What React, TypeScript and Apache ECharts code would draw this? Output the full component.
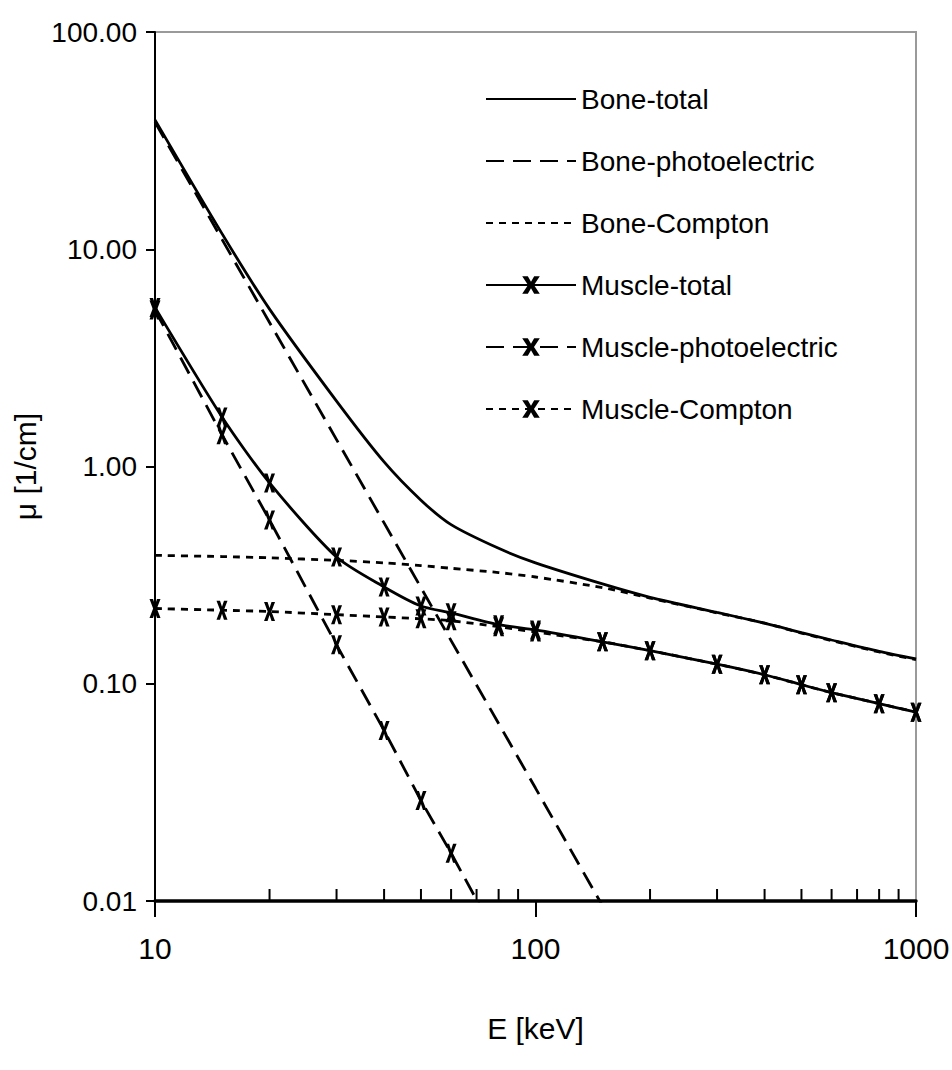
import React, { useEffect, useRef } from "react";
import * as echarts from "echarts";

// Photon energy (keV) sample points
const energies = [10, 15, 20, 30, 40, 50, 60, 80, 100, 150, 200, 300, 400, 500, 600, 800, 1000];

// Linear attenuation coefficient mu [1/cm]
const boneTotal = [39.4, 11.8, 5.3, 2.0, 1.05, 0.7, 0.54, 0.42, 0.36, 0.288, 0.25, 0.213, 0.19, 0.172, 0.159, 0.141, 0.13];
const boneCompton = [0.39, 0.385, 0.38, 0.37, 0.36, 0.35, 0.34, 0.325, 0.31, 0.277, 0.248, 0.212, 0.19, 0.171, 0.158, 0.14, 0.129];
const bonePhotoEnergies = [10, 15, 20, 30, 40, 50, 60, 80, 100, 150];
const bonePhoto = [38.5, 11.1, 4.6, 1.33, 0.55, 0.277, 0.158, 0.0656, 0.0331, 0.0095];

const muscleTotal = [5.4, 1.69, 0.84, 0.383, 0.279, 0.228, 0.212, 0.187, 0.177, 0.156, 0.142, 0.123, 0.11, 0.099, 0.091, 0.081, 0.074];
const muscleCompton = [0.222, 0.218, 0.215, 0.208, 0.203, 0.199, 0.195, 0.183, 0.173, 0.156, 0.142, 0.123, 0.11, 0.099, 0.091, 0.081, 0.074];
const musclePhotoEnergies = [10, 15, 20, 30, 40, 50, 60, 80];
const musclePhoto = [5.25, 1.4, 0.567, 0.151, 0.061, 0.029, 0.0166, 0.0066];

// Minor ticks on the energy axis
const minorTicks = [20, 30, 40, 50, 60, 70, 80, 90, 200, 300, 400, 500, 600, 700, 800, 900];

const seriesNames = [
  "Bone-total",
  "Bone-photoelectric",
  "Bone-Compton",
  "Muscle-total",
  "Muscle-photoelectric",
  "Muscle-Compton",
];

const FONT = '"Liberation Sans", Arial, sans-serif';
const X_SYMBOL =
  "path://M0,0 L3.2,0 L5,6.4 L6.8,0 L10,0 L6.7,10 L10,20 L6.8,20 L5,13.6 L3.2,20 L0,20 L3.3,10 Z";

const pairs = (xs: number[], ys: number[]) => xs.map((x, i) => [x, ys[i]]);

export default function App() {
  const ref = useRef<HTMLDivElement>(null);

  useEffect(() => {
    if (!ref.current) return;
    const chart = echarts.init(ref.current, null, { renderer: "svg" });

    const lineBase = (
      name: string,
      data: number[][],
      type: any,
      withSymbol: boolean,
      smooth: number | boolean
    ) => ({
      name,
      type: "line",
      data,
      clip: true,
      smooth,
      symbol: withSymbol ? X_SYMBOL : "none",
      symbolSize: [11, 19],
      showSymbol: withSymbol,
      symbolKeepAspect: false,
      itemStyle: { color: withSymbol ? "#000" : "rgba(0,0,0,0)", borderWidth: 0 },
      lineStyle: { color: "#000", width: 2.8, type },
      emphasis: { disabled: true },
      z: 3,
    });

    chart.setOption({
      animation: false,
      backgroundColor: "#fff",
      textStyle: { fontFamily: FONT },
      grid: {
        left: 155,
        right: 36,
        top: 32,
        bottom: 169,
        containLabel: false,
        outerBoundsMode: "none",
        show: true,
        borderColor: "#9a9a9a",
        borderWidth: 2,
      },
      legend: {
        data: seriesNames,
        orient: "vertical",
        left: 480,
        top: 78,
        itemWidth: 90,
        itemHeight: 22,
        itemGap: 30,
        selectedMode: false,
        textStyle: { fontFamily: FONT, fontSize: 28, lineHeight: 32, color: "#000" },
      },
      xAxis: {
        type: "log",
        logBase: 10,
        min: 10,
        max: 1000,
        name: "E [keV]",
        nameLocation: "middle",
        nameGap: 112,
        nameTextStyle: { fontFamily: FONT, fontSize: 30, color: "#000" },
        axisLine: { show: true, lineStyle: { color: "#000", width: 3.5 } },
        axisTick: { show: true, inside: false, length: 16, lineStyle: { color: "#000", width: 2 } },
        axisLabel: {
          fontFamily: FONT,
          fontSize: 30,
          color: "#000",
          margin: 32,
          formatter: (v: number) => String(Math.round(v)),
        },
        splitLine: { show: false },
        minorTick: { show: false },
      },
      yAxis: {
        type: "log",
        logBase: 10,
        min: 0.01,
        max: 100,
        name: "μ [1/cm]",
        nameLocation: "middle",
        nameGap: 112,
        nameTextStyle: { fontFamily: FONT, fontSize: 30, color: "#000" },
        axisLine: { show: true, lineStyle: { color: "#000", width: 2 } },
        axisTick: { show: true, inside: false, length: 9, lineStyle: { color: "#000", width: 2 } },
        axisLabel: {
          fontFamily: FONT,
          fontSize: 28,
          color: "#000",
          margin: 18,
          formatter: (v: number) => v.toFixed(2),
        },
        splitLine: { show: false },
      },
      series: [
        lineBase(seriesNames[0], pairs(energies, boneTotal), "solid", false, 0.25),
        lineBase(seriesNames[1], pairs(bonePhotoEnergies, bonePhoto), [18, 9], false, false),
        lineBase(seriesNames[2], pairs(energies, boneCompton), [7, 6], false, 0.25),
        lineBase(seriesNames[3], pairs(energies, muscleTotal), "solid", true, 0.25),
        lineBase(seriesNames[4], pairs(musclePhotoEnergies, musclePhoto), [18, 9], true, false),
        lineBase(seriesNames[5], pairs(energies, muscleCompton), [7, 6], true, 0.25),
        {
          name: "minor-ticks",
          type: "custom",
          data: minorTicks.map((t) => [t, 0.01]),
          clip: false,
          silent: true,
          z: 4,
          renderItem: (_params: any, api: any) => {
            const p = api.coord([api.value(0), 0.01]);
            return {
              type: "line",
              shape: { x1: p[0], y1: p[1], x2: p[0], y2: p[1] - 12 },
              style: { stroke: "#000", lineWidth: 2 },
            };
          },
        },
      ],
    });

    return () => chart.dispose();
  }, []);

  return (
    <div
      ref={ref}
      style={{ position: "absolute", left: 0, top: 0, width: 952, height: 1070, background: "#fff" }}
    />
  );
}
